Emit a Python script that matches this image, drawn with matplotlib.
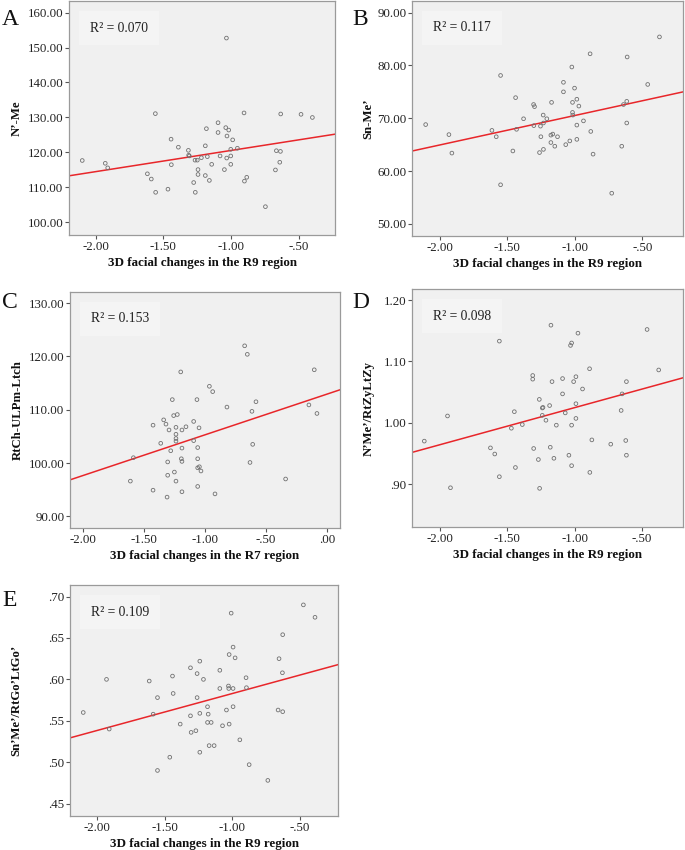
import numpy as np
import matplotlib
matplotlib.use("Agg")
import matplotlib.pyplot as plt

# ---------------- data ----------------
# Panel A: R9 vs N'-Me
a_x = [-2.099, -1.929, -1.911, -1.618, -1.589, -1.559, -1.557, -1.466, -1.443, -1.441,
       -1.389, -1.315, -1.313, -1.308, -1.276, -1.266, -1.264, -1.249, -1.244, -1.244,
       -1.219, -1.190, -1.190, -1.182, -1.175, -1.160, -1.143, -1.096, -1.096, -1.081,
       -1.049, -1.039, -1.034, -1.032, -1.030, -1.017, -1.002, -1.002, -1.002, -0.988,
       -0.953, -0.904, -0.901, -0.884, -0.746, -0.672, -0.665, -0.640, -0.635, -0.633,
       -0.483, -0.399]
a_y = [117.7, 116.9, 115.6, 113.9, 112.4, 131.1, 108.6, 109.5, 123.8, 116.5,
       121.5, 120.6, 119.2, 119.0, 111.4, 117.8, 108.6, 117.8, 115.1, 113.7,
       118.5, 121.9, 113.4, 126.8, 118.8, 112.0, 116.6, 128.5, 125.7, 119.0,
       115.1, 127.1, 152.7, 118.4, 124.7, 126.4, 120.9, 119.0, 116.6, 123.6,
       121.2, 131.3, 111.8, 112.9, 104.5, 115.0, 120.5, 117.2, 120.3, 131.0,
       130.9, 130.0]

# Panel B: R9 vs Sn-Me'
b_x = [-2.103, -1.931, -1.909, -1.613, -1.581, -1.549, -1.549, -1.458, -1.438, -1.431,
       -1.379, -1.305, -1.298, -1.303, -1.261, -1.254, -1.251, -1.234, -1.232, -1.232,
       -1.207, -1.172, -1.177, -1.177, -1.163, -1.148, -1.128, -1.084, -1.084, -1.067,
       -1.037, -1.022, -1.017, -1.017, -1.015, -1.002, -0.985, -0.985, -0.985, -0.970,
       -0.936, -0.887, -0.882, -0.865, -0.727, -0.653, -0.640, -0.616, -0.613, -0.616,
       -0.461, -0.374]
b_y = [68.8, 66.9, 63.4, 67.7, 66.5, 78.1, 57.4, 63.8, 73.9, 67.9,
       69.9, 72.6, 72.2, 68.6, 63.5, 68.5, 66.5, 70.6, 64.1, 69.1,
       69.9, 73.0, 66.8, 65.4, 67.0, 64.7, 66.5, 76.8, 75.0, 65.0,
       65.7, 79.7, 73.0, 71.1, 70.6, 75.7, 73.6, 68.7, 66.0, 72.3,
       69.5, 82.2, 67.5, 63.2, 55.8, 64.7, 72.6, 73.2, 81.6, 69.1,
       76.4, 85.4]

# Panel C: R7 vs RtCh-ULPm-Ltch
c_x = [-1.612, -1.587, -1.426, -1.426, -1.363, -1.339, -1.320, -1.306, -1.306, -1.311,
       -1.295, -1.281, -1.268, -1.257, -1.251, -1.238, -1.238, -1.238, -1.238, -1.238,
       -1.227, -1.199, -1.194, -1.189, -1.189, -1.189, -1.189, -1.156, -1.093, -1.093,
       -1.066, -1.060, -1.060, -1.060, -1.060, -1.049, -1.046, -1.033, -0.964, -0.937,
       -0.918, -0.820, -0.675, -0.653, -0.631, -0.615, -0.609, -0.582, -0.339, -0.148,
       -0.104, -0.082]
c_y = [96.6, 101.0, 107.1, 94.9, 103.7, 108.1, 107.3, 100.2, 97.7, 93.6,
       106.2, 102.3, 111.9, 108.9, 98.3, 106.7, 105.4, 104.6, 104.1, 96.6,
       109.1, 117.1, 100.8, 100.3, 102.8, 106.2, 94.6, 106.8, 107.8, 104.2,
       111.9, 102.9, 100.8, 99.1, 95.6, 106.6, 99.3, 98.5, 114.4, 113.4,
       94.2, 110.5, 122.0, 120.4, 100.1, 109.7, 103.5, 111.5, 97.0, 110.9,
       117.5, 109.3]

# Panel D: R9 vs N'Me'/RtZyLtZy
d_x = [-2.113, -1.941, -1.919, -1.623, -1.591, -1.557, -1.557, -1.468, -1.446, -1.438,
       -1.387, -1.310, -1.310, -1.303, -1.268, -1.261, -1.259, -1.239, -1.234, -1.239,
       -1.212, -1.185, -1.180, -1.175, -1.167, -1.153, -1.135, -1.089, -1.089, -1.069,
       -1.042, -1.030, -1.022, -1.022, -1.022, -1.007, -0.990, -0.990, -0.990, -0.975,
       -0.941, -0.889, -0.887, -0.872, -0.732, -0.655, -0.648, -0.621, -0.616, -0.616,
       -0.463, -0.377]
d_y = [0.970, 1.011, 0.894, 0.959, 0.949, 1.133, 0.912, 0.991, 1.018, 0.927,
       0.997, 1.077, 1.071, 0.958, 0.940, 1.038, 0.893, 1.024, 1.025, 1.012,
       1.004, 1.028, 0.960, 1.159, 1.067, 0.942, 0.996, 1.072, 1.047, 1.016,
       0.947, 1.126, 1.130, 0.996, 0.930, 1.067, 1.075, 1.031, 1.007, 1.146,
       1.055, 1.088, 0.919, 0.972, 0.965, 1.020, 1.047, 0.971, 1.067, 0.947,
       1.152, 1.086]

# Panel E: R9 vs Sn'Me'/RtGo'LtGo'
e_x = [-2.101, -1.929, -1.909, -1.613, -1.584, -1.552, -1.552, -1.461, -1.441, -1.436,
       -1.384, -1.308, -1.308, -1.303, -1.268, -1.259, -1.259, -1.239, -1.239, -1.239,
       -1.212, -1.182, -1.182, -1.177, -1.170, -1.155, -1.133, -1.091, -1.091, -1.071,
       -1.042, -1.025, -1.022, -1.027, -1.022, -1.007, -0.993, -0.993, -0.993, -0.978,
       -0.943, -0.897, -0.894, -0.874, -0.736, -0.660, -0.653, -0.628, -0.626, -0.626,
       -0.473, -0.387]
e_y = [0.560, 0.600, 0.540, 0.598, 0.558, 0.578, 0.490, 0.506, 0.604, 0.583,
       0.546, 0.614, 0.556, 0.536, 0.538, 0.607, 0.578, 0.622, 0.559, 0.512,
       0.600, 0.567, 0.548, 0.558, 0.520, 0.548, 0.520, 0.611, 0.589, 0.544,
       0.563, 0.589, 0.630, 0.592, 0.546, 0.680, 0.589, 0.639, 0.567, 0.626,
       0.527, 0.602, 0.590, 0.497, 0.478, 0.563, 0.625, 0.608, 0.654, 0.561,
       0.690, 0.675]

letters = ["A", "B", "C", "D", "E"]
r2_texts = ["R² = 0.070", "R² = 0.117", "R² = 0.153", "R² = 0.098", "R² = 0.109"]
y_labels = ["N’-Me", "Sn-Me’", "RtCh-ULPm-Ltch", "N’Me’/RtZyLtZy", "Sn’Me’/RtGo’LtGo’"]
x_labels = ["3D facial changes in the R9 region", "3D facial changes in the R9 region",
            "3D facial changes in the R7 region", "3D facial changes in the R9 region",
            "3D facial changes in the R9 region"]
x_ticks_r9 = [-2.0, -1.5, -1.0, -0.5]
x_ticks_r7 = [-2.0, -1.5, -1.0, -0.5, 0.0]
y_ticks_a = [100, 110, 120, 130, 140, 150, 160]
y_ticks_b = [50, 60, 70, 80, 90]
y_ticks_c = [90, 100, 110, 120, 130]
y_ticks_d = [0.90, 1.00, 1.10, 1.20]
y_ticks_e = [0.45, 0.50, 0.55, 0.60, 0.65, 0.70]

# ---------------- layout / style ----------------
W, H = 685, 850
SERIF = ["Liberation Serif", "DejaVu Serif"]
plt.rcParams["font.family"] = SERIF

fig = plt.figure(figsize=(W / 100, H / 100), dpi=100)
fig.patch.set_facecolor("white")

# (left, top, right, bottom) in pixels, x/y limits, ticks, ylabel right-edge px, letter pos
panels = [
    dict(box=(69, 1, 335, 235), xlim=(-2.197, -0.232), ylim=(96.4, 163.3),
         xt=x_ticks_r9, yt=y_ticks_a, ylx=23, let=(2, 9)),
    dict(box=(412, 1, 683, 236), xlim=(-2.204, -0.200), ylim=(47.7, 92.2),
         xt=x_ticks_r9, yt=y_ticks_b, ylx=374, let=(352, 9)),
    dict(box=(70, 292, 340, 528), xlim=(-2.107, 0.107), ylim=(87.8, 132.1),
         xt=x_ticks_r7, yt=y_ticks_c, ylx=24, let=(2, 292)),
    dict(box=(412, 289, 683, 527), xlim=(-2.204, -0.197), ylim=(0.830, 1.218),
         xt=x_ticks_r9, yt=y_ticks_d, ylx=375, let=(352, 292)),
    dict(box=(70, 585, 338, 816), xlim=(-2.199, -0.217), ylim=(0.435, 0.714),
         xt=x_ticks_r9, yt=y_ticks_e, ylx=22, let=(2, 590)),
]
datasets = [(a_x, a_y), (b_x, b_y), (c_x, c_y), (d_x, d_y), (e_x, e_y)]


def spss_fmt(v):
    s = f"{v:.2f}"
    if s.startswith("-0."):
        s = "-" + s[2:]
    elif s.startswith("0."):
        s = s[1:]
    return s


for i, (p, (xs, ys)) in enumerate(zip(panels, datasets)):
    l, t, r, b = p["box"]
    ax = fig.add_axes([l / W, 1 - b / H, (r - l) / W, (b - t) / H])
    ax.set_facecolor("#F0F0F0")
    for sp in ax.spines.values():
        sp.set_color("#9A9A9A")
        sp.set_linewidth(0.9)
    xs = np.asarray(xs)
    ys = np.asarray(ys)
    ax.scatter(xs, ys, s=7, facecolors="none", edgecolors="#707070",
               linewidths=0.6, zorder=3)
    # least-squares fit line
    slope, intercept = np.polyfit(xs, ys, 1)
    xl = np.array(p["xlim"])
    ax.plot(xl, intercept + slope * xl, color="#E8262A", lw=1.1, zorder=2)
    ax.set_xlim(*p["xlim"])
    ax.set_ylim(*p["ylim"])
    ax.set_xticks(p["xt"])
    ax.set_yticks(p["yt"])
    ax.set_xticklabels([spss_fmt(v) for v in p["xt"]])
    ax.set_yticklabels([spss_fmt(v) for v in p["yt"]])
    ax.tick_params(axis="both", direction="out", length=3, width=0.8,
                   color="#555555", labelsize=9.3, labelcolor="#222222", pad=1)
    ax.set_xlabel(x_labels[i], fontsize=9.4, fontweight="bold", labelpad=3,
                  color="#111111")
    ax.set_ylabel(y_labels[i], fontsize=9.2, fontweight="bold", color="#111111")
    ax.yaxis.set_label_coords((p["ylx"] - l) / (r - l), 0.5)
    ax.text(21 / (r - l), 1 - 27 / (b - t), r2_texts[i], transform=ax.transAxes,
            fontsize=9.8, color="#222222", va="center", ha="left",
            bbox=dict(boxstyle="square,pad=0.8", facecolor="#F4F4F4",
                      edgecolor="none"))
    fig.text(p["let"][0] / W, 1 - p["let"][1] / H, letters[i], fontsize=17,
             ha="left", va="top", color="#111111")

fig.savefig("out.png", dpi=100, facecolor="white")
